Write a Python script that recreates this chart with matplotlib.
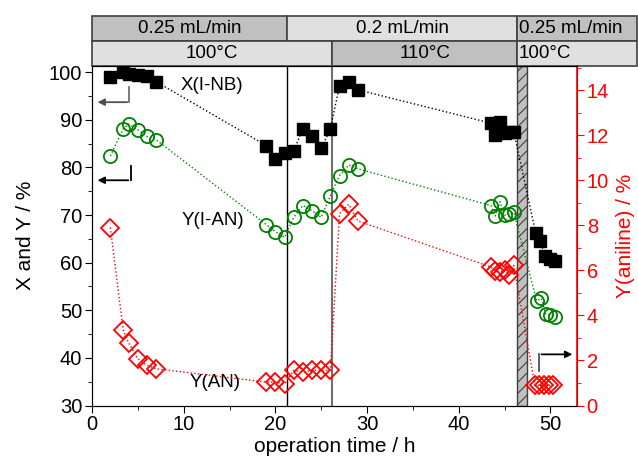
import matplotlib
matplotlib.use("Agg")
import matplotlib.pyplot as plt
from matplotlib.patches import Rectangle
from matplotlib.ticker import MultipleLocator

plt.rcParams['font.family'] = ['Liberation Sans', 'DejaVu Sans']
plt.rcParams['hatch.linewidth'] = 0.8

# X(I-NB), left axis
t_x = [2, 3.4, 4, 5, 6, 7, 19, 20, 21, 22, 23, 24, 25, 26, 27, 28, 29,
       43.5, 44, 44.5, 45, 45.5, 46, 48.4, 48.9, 49.4, 49.9, 50.5]
x_inb = [99.0, 100.1, 99.6, 99.4, 99.2, 98.0, 84.6, 81.8, 83.0, 83.5, 88.1, 86.5, 84.0, 88.1,
         97.2, 97.9, 96.3, 89.3, 86.8, 89.5, 87.2, 87.4, 87.5, 66.2, 64.6, 61.3, 60.8, 60.4]

# Y(I-AN), left axis
t_y = [2, 3.4, 4, 5, 6, 7, 19, 20, 21, 22, 23, 24, 25, 26, 27, 28, 29,
       43.5, 44, 44.5, 45, 45.5, 46, 48.5, 49, 49.5, 50, 50.5]
y_ian = [82.4, 88.1, 89.1, 87.9, 86.5, 85.8, 68.0, 66.5, 65.3, 69.5, 72.0, 70.9, 69.5, 74.1,
         78.3, 80.5, 79.7, 72.0, 69.8, 72.8, 70.0, 70.2, 70.6, 52.0, 52.5, 49.2, 49.0, 48.6]

# Y(AN), right axis
t_an = [2, 3.4, 4, 5, 6, 7, 19, 20, 21, 22, 23, 24, 25, 26, 27, 28, 29,
        43.5, 44, 44.5, 45, 45.5, 46, 48.3, 48.8, 49.3, 49.8, 50.3]
y_an = [7.9, 3.36, 2.77, 2.07, 1.78, 1.63, 1.04, 1.04, 0.96, 1.56, 1.48, 1.56, 1.56, 1.56,
        8.52, 8.93, 8.19, 6.15, 5.97, 5.93, 6.03, 5.78, 6.22, 0.89, 0.89, 0.89, 0.89, 0.89]

# header rows: (start, end, label, fill)
flow_rows = [(0, 21.3, '0.25 mL/min', '#c0c0c0'),
             (21.3, 46.4, '0.2 mL/min', '#e0e0e0'),
             (46.4, 59.4, '0.25 mL/min', '#c0c0c0')]
temp_rows = [(0, 26.2, '100°C', '#e0e0e0'),
             (26.2, 46.4, '110°C', '#c0c0c0'),
             (46.4, 59.4, '100°C', '#e0e0e0')]

fig = plt.figure(figsize=(6.38, 4.73), dpi=100)
ax = fig.add_axes([0.1442, 0.1427, 0.7602, 0.7178])
ax2 = ax.twinx()

ax.plot(t_x, x_inb, ls=':', color='black', lw=1, marker='s', ms=8,
        mfc='black', mec='black', zorder=3)
ax.plot(t_y, y_ian, ls=':', color='green', lw=1, marker='o', ms=9.5,
        mfc='none', mec='green', mew=1.3, zorder=3)
ax2.plot(t_an, y_an, ls=':', color='red', lw=1, marker='D', ms=9,
         mfc='none', mec='red', mew=1.3, zorder=3)

ax.set_xlim(0, 52.9)
ax.set_ylim(30, 101.3)
ax2.set_ylim(0, 15.07)

ax.axvline(21.3, color='black', lw=1)
ax.axvline(26.2, color='#707070', lw=1.5)
ax.axvspan(46.4, 47.4, facecolor='#c0c0c0', edgecolor='#404040', hatch='///', lw=1)

ax.xaxis.set_major_locator(MultipleLocator(10))
ax.xaxis.set_minor_locator(MultipleLocator(5))
ax.yaxis.set_major_locator(MultipleLocator(10))
ax.yaxis.set_minor_locator(MultipleLocator(5))
ax2.yaxis.set_major_locator(MultipleLocator(2))
ax2.yaxis.set_minor_locator(MultipleLocator(1))

ax.tick_params(which='major', length=5, labelsize=14.5, direction='out', pad=2)
ax.tick_params(which='minor', length=3, direction='out')
ax2.tick_params(which='major', length=5, labelsize=14.5, colors='red', direction='out', pad=2)
ax2.tick_params(which='minor', length=3, colors='red', direction='out')
ax2.spines['right'].set_color('red')
ax2.spines['right'].set_linewidth(1.2)

ax.set_xlabel('operation time / h', fontsize=15, labelpad=2)
ax.set_ylabel('X and Y / %', fontsize=15, labelpad=10)
ax2.set_ylabel('Y(aniline) / %', fontsize=15, color='red', labelpad=5)

# curve labels
ax.text(13.1, 97.2, 'X(I-NB)', fontsize=13.5, ha='center', va='center')
ax.text(13.2, 68.8, 'Y(I-AN)', fontsize=13.5, ha='center', va='center')
ax.text(13.4, 34.8, 'Y(AN)', fontsize=13.5, ha='center', va='center')

# axis pointers
ax.plot([4.07, 4.07], [96.85, 93.7], color='#707070', lw=1.3)
ax.annotate('', xy=(0.3, 93.7), xytext=(4.14, 93.7),
            arrowprops=dict(arrowstyle='-|>', color='#505050', lw=1.3, mutation_scale=10))
ax.plot([4.2, 4.2], [80.3, 77.3], color='black', lw=1.3)
ax.annotate('', xy=(0.3, 77.3), xytext=(4.27, 77.3),
            arrowprops=dict(arrowstyle='-|>', color='black', lw=1.3, mutation_scale=10))
ax2.plot([48.8, 48.8], [1.55, 2.27], color='#505050', lw=1.3)
ax2.annotate('', xy=(52.7, 2.27), xytext=(48.73, 2.27),
             arrowprops=dict(arrowstyle='-|>', color='black', lw=1.3, mutation_scale=10))

# header boxes above the plot
for rows, y0, y1 in [(flow_rows, 1.0737, 1.147), (temp_rows, 1.0, 1.0737)]:
    for x0, x1, lab, fc in rows:
        r = Rectangle((x0, y0), x1 - x0, y1 - y0, transform=ax.get_xaxis_transform(),
                      facecolor=fc, edgecolor='#404040', lw=1.2, clip_on=False, zorder=5)
        ax.add_patch(r)
        xc = (x0 + x1) / 2 if x1 < 55 else x0 + 0.15
        ax.text(xc, (y0 + y1) / 2, lab, transform=ax.get_xaxis_transform(),
                ha='center' if x1 < 55 else 'left', va='center', fontsize=13.5,
                clip_on=False, zorder=6)

fig.savefig('out.png', dpi=100)
